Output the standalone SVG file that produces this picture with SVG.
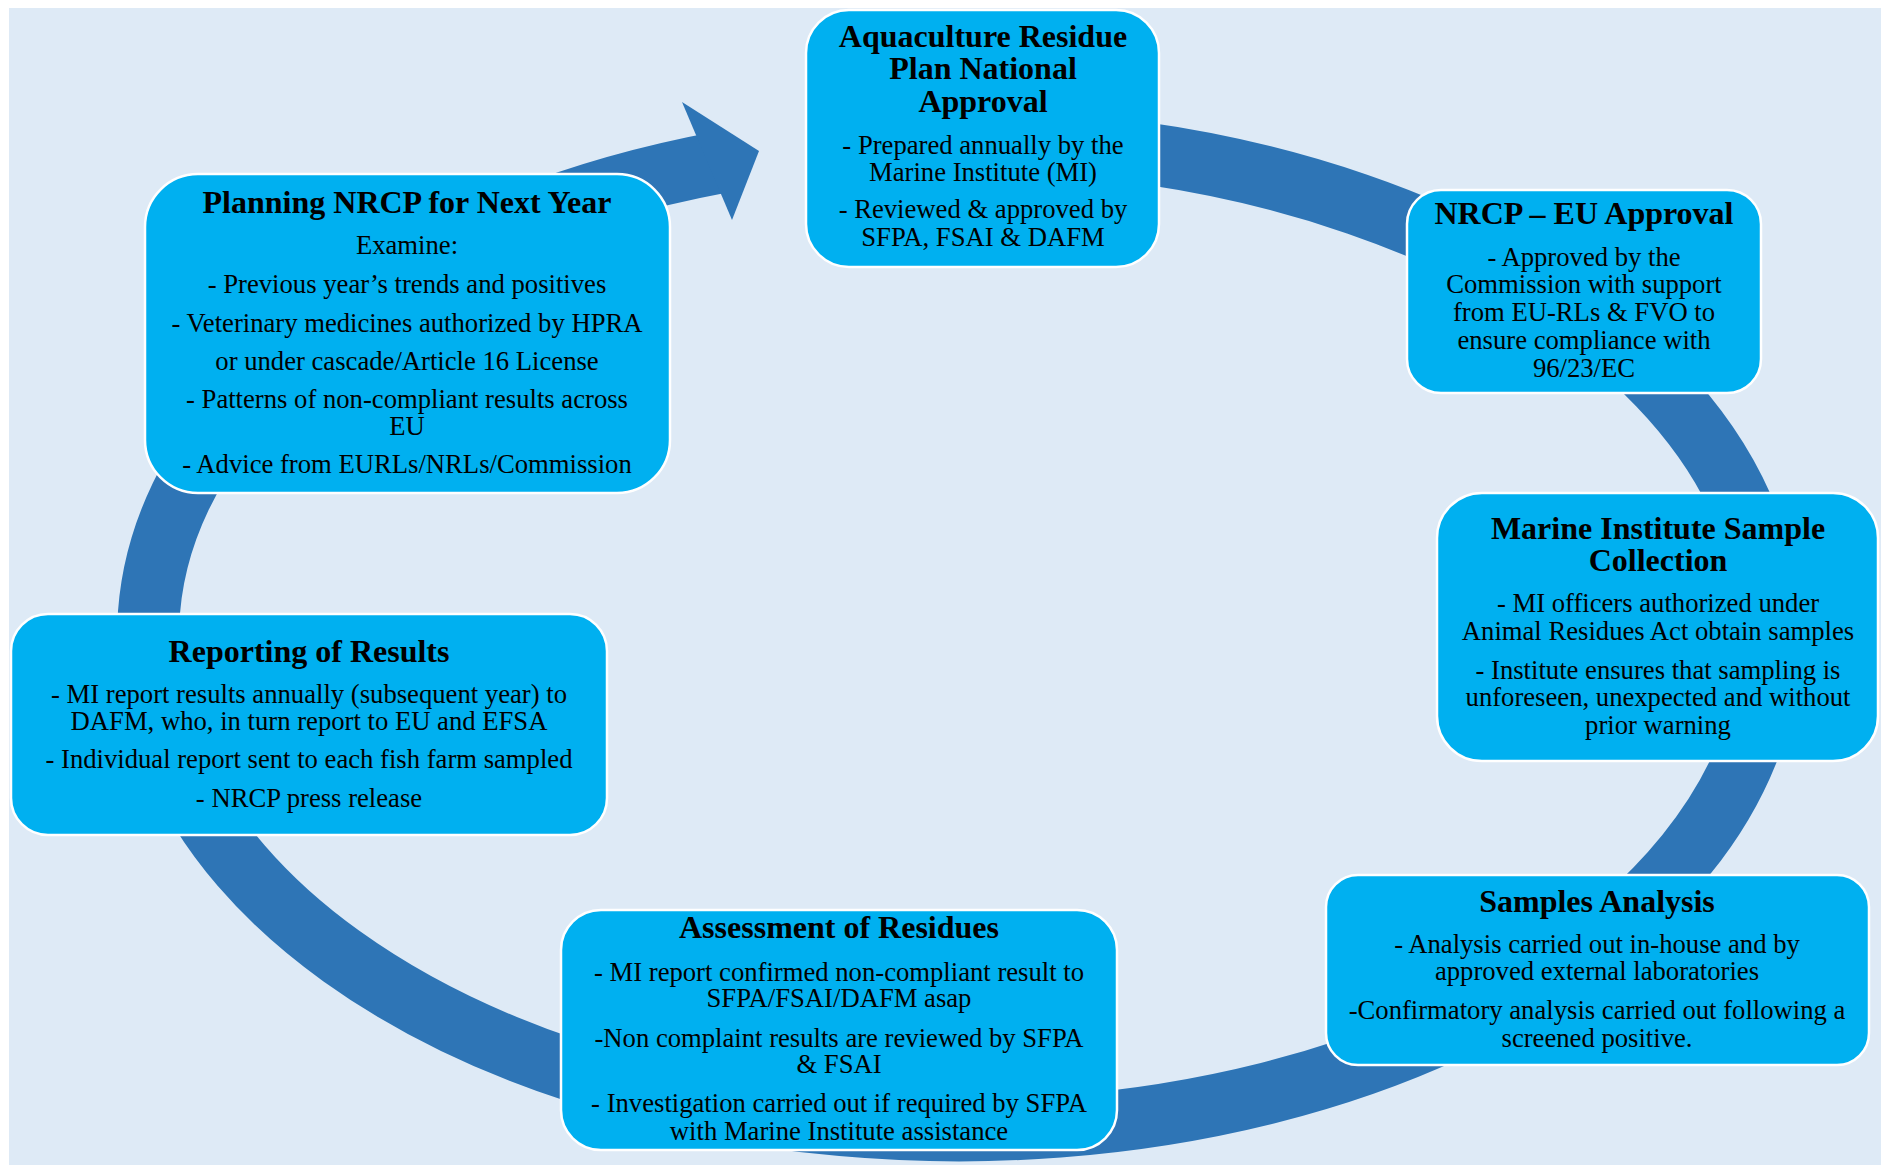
<svg xmlns="http://www.w3.org/2000/svg" width="1881" height="1165" viewBox="0 0 1881 1165">
<style>
.node rect{fill:#00B0F0;stroke:#FFFFFF;stroke-width:2.5}
.t{font-family:"Liberation Serif","Times New Roman",serif;font-size:32px;font-weight:bold;fill:#000;text-anchor:middle}
.b{font-family:"Liberation Serif","Times New Roman",serif;font-size:26.67px;fill:#000;text-anchor:middle}
.ring{fill:none;stroke:#2E75B6;stroke-width:62}
</style>
<rect x="9" y="8" width="1872" height="1157" fill="#DEEAF6"/>
<g id="connectors">
<path class="ring" d="M 1000 141 A 811 495 0 1 1 722 162"/>
<polygon points="682,102 759,151 732,220" fill="#2E75B6"/>
</g>
<g id="node-national-approval" class="node">
<rect x="806" y="10" width="353" height="257" rx="43" ry="43"/>
<text class="t" x="983" y="47">Aquaculture Residue</text>
<text class="t" x="983" y="79">Plan National</text>
<text class="t" x="983" y="112">Approval</text>
<text class="b" x="983" y="154">- Prepared annually by the</text>
<text class="b" x="983" y="181">Marine Institute (MI)</text>
<text class="b" x="983" y="218">- Reviewed &amp; approved by</text>
<text class="b" x="983" y="246">SFPA, FSAI &amp; DAFM</text>
</g>
<g id="node-eu-approval" class="node">
<rect x="1407" y="190" width="354" height="203" rx="34" ry="34"/>
<text class="t" x="1584" y="224">NRCP – EU Approval</text>
<text class="b" x="1584" y="266">- Approved by the</text>
<text class="b" x="1584" y="293">Commission with support</text>
<text class="b" x="1584" y="321">from EU-RLs &amp; FVO to</text>
<text class="b" x="1584" y="349">ensure compliance with</text>
<text class="b" x="1584" y="377">96/23/EC</text>
</g>
<g id="node-sample-collection" class="node">
<rect x="1437" y="493" width="441" height="268" rx="45" ry="45"/>
<text class="t" x="1658" y="539">Marine Institute Sample</text>
<text class="t" x="1658" y="571">Collection</text>
<text class="b" x="1658" y="612">- MI officers authorized under</text>
<text class="b" x="1658" y="640">Animal Residues Act obtain samples</text>
<text class="b" x="1658" y="679">- Institute ensures that sampling is</text>
<text class="b" x="1658" y="706">unforeseen, unexpected and without</text>
<text class="b" x="1658" y="734">prior warning</text>
</g>
<g id="node-samples-analysis" class="node">
<rect x="1326" y="875" width="543" height="190" rx="32" ry="32"/>
<text class="t" x="1597" y="912">Samples Analysis</text>
<text class="b" x="1597" y="953">- Analysis carried out in-house and by</text>
<text class="b" x="1597" y="980">approved external laboratories</text>
<text class="b" x="1597" y="1019">-Confirmatory analysis carried out following a</text>
<text class="b" x="1597" y="1047">screened positive.</text>
</g>
<g id="node-assessment" class="node">
<rect x="561" y="910" width="556" height="240" rx="40" ry="40"/>
<text class="t" x="839" y="938">Assessment of Residues</text>
<text class="b" x="839" y="981">- MI report confirmed non-compliant result to</text>
<text class="b" x="839" y="1007">SFPA/FSAI/DAFM asap</text>
<text class="b" x="839" y="1047">-Non complaint results are reviewed by SFPA</text>
<text class="b" x="839" y="1073">&amp; FSAI</text>
<text class="b" x="839" y="1112">- Investigation carried out if required by SFPA</text>
<text class="b" x="839" y="1140">with Marine Institute assistance</text>
</g>
<g id="node-reporting" class="node">
<rect x="11" y="614" width="596" height="221" rx="37" ry="37"/>
<text class="t" x="309" y="662">Reporting of Results</text>
<text class="b" x="309" y="703">- MI report results annually (subsequent year) to</text>
<text class="b" x="309" y="730">DAFM, who, in turn report to EU and EFSA</text>
<text class="b" x="309" y="768">- Individual report sent to each fish farm sampled</text>
<text class="b" x="309" y="807">- NRCP press release</text>
</g>
<g id="node-planning" class="node">
<rect x="145" y="174" width="525" height="319" rx="53" ry="53"/>
<text class="t" x="407" y="213">Planning NRCP for Next Year</text>
<text class="b" x="407" y="254">Examine:</text>
<text class="b" x="407" y="293">- Previous year’s trends and positives</text>
<text class="b" x="407" y="332">- Veterinary medicines authorized by HPRA</text>
<text class="b" x="407" y="370">or under cascade/Article 16 License</text>
<text class="b" x="407" y="408">- Patterns of non-compliant results across</text>
<text class="b" x="407" y="435">EU</text>
<text class="b" x="407" y="473">- Advice from EURLs/NRLs/Commission</text>
</g>
</svg>
